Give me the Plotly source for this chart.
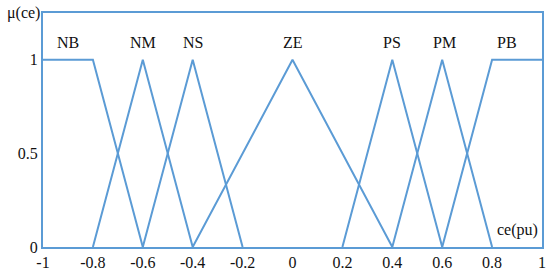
import plotly.graph_objects as go

# membership functions of ce (error change), per unit
set_names = ["NB", "NM", "NS", "ZE", "PS", "PM", "PB"]
set_x = [
    [-1.0, -0.8, -0.6],
    [-0.8, -0.6, -0.4],
    [-0.6, -0.4, -0.2],
    [-0.4, 0.0, 0.4],
    [0.2, 0.4, 0.6],
    [0.4, 0.6, 0.8],
    [0.6, 0.8, 1.0],
]
set_mu = [
    [1, 1, 0],
    [0, 1, 0],
    [0, 1, 0],
    [0, 1, 0],
    [0, 1, 0],
    [0, 1, 0],
    [0, 1, 1],
]
label_x = [-0.9, -0.6, -0.4, 0.0, 0.4, 0.61, 0.86]

x_ticks = [-1, -0.8, -0.6, -0.4, -0.2, 0, 0.2, 0.4, 0.6, 0.8, 1]
x_tick_text = ["-1", "-0.8", "-0.6", "-0.4", "-0.2", "0", "0.2", "0.4", "0.6", "0.8", "1"]
y_ticks = [0, 0.5, 1]
y_tick_text = ["0", "0.5", "1"]

BLUE = "#5b9bd5"
FONT = "Times New Roman"

fig = go.Figure()
for name, xs, ys in zip(set_names, set_x, set_mu):
    fig.add_trace(
        go.Scatter(x=xs, y=ys, mode="lines", line=dict(color=BLUE, width=2), name=name, showlegend=False)
    )

for name, lx in zip(set_names, label_x):
    fig.add_annotation(
        x=lx, y=1.09, text=name, showarrow=False, font=dict(family=FONT, size=16, color="#111111")
    )

fig.add_annotation(
    xref="paper", yref="paper", x=0, y=1, xanchor="right", yanchor="middle", xshift=-1,
    text="μ(ce)", showarrow=False, font=dict(family=FONT, size=16, color="#111111"),
)
fig.add_annotation(
    xref="paper", yref="y", x=1, y=0.09, xanchor="right", yanchor="middle", xshift=-2,
    text="ce(pu)", showarrow=False, font=dict(family=FONT, size=16, color="#111111"),
)

fig.update_layout(
    width=550,
    height=274,
    margin=dict(l=43, r=8, t=13, b=27, autoexpand=False),
    paper_bgcolor="white",
    plot_bgcolor="white",
    showlegend=False,
)
fig.update_xaxes(
    range=[-1, 1],
    tickvals=x_ticks,
    ticktext=x_tick_text,
    showgrid=False,
    zeroline=False,
    showline=True,
    mirror=True,
    linecolor=BLUE,
    linewidth=2,
    ticks="",
    automargin=False,
    tickfont=dict(family=FONT, size=16, color="#111111"),
)
fig.update_yaxes(
    range=[0, 1.25],
    tickvals=y_ticks,
    ticktext=y_tick_text,
    showgrid=False,
    zeroline=False,
    showline=True,
    mirror=True,
    linecolor=BLUE,
    linewidth=2,
    ticks="",
    automargin=False,
    tickfont=dict(family=FONT, size=16, color="#111111"),
)

# drop the page's default body margin so the figure sits at the window corner
fig.write_html(
    "out.html",
    config={"displayModeBar": False},
    post_script="document.body.style.margin='0';",
)
